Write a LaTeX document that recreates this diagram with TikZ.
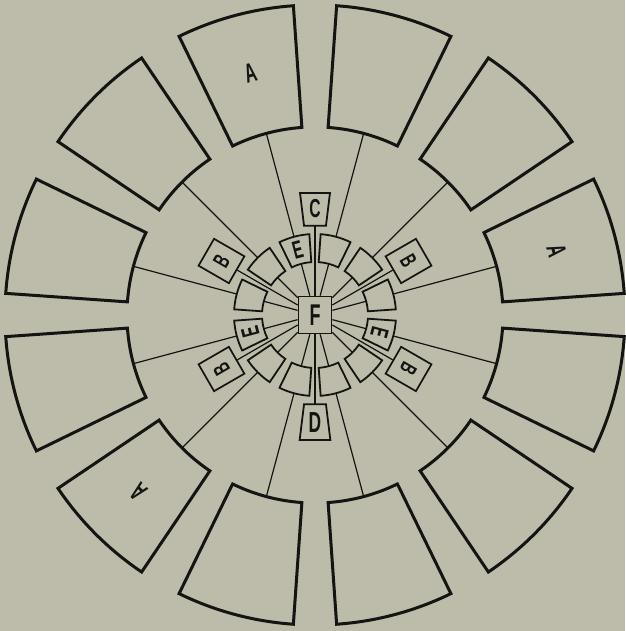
\documentclass[tikz,border=0pt]{standalone}
\usepackage{fontspec}
\newfontfamily\plate[FakeStretch=0.6]{Liberation Sans}
\definecolor{paper}{RGB}{189,188,170}
\definecolor{ink}{RGB}{20,20,18}
\tikzset{
  bigsector/.style={draw=ink, line width=3pt},
  cell/.style={draw=ink, line width=1.8pt},
  tag/.style={draw=ink, line width=1.7pt, inner sep=0pt},
  wire/.style={draw=ink, line width=1.2pt},
  letter/.style={text=ink, inner sep=0pt, font=\plate\bfseries\fontsize{27}{27}\selectfont}
}
\begin{document}
\begin{tikzpicture}[x=1pt, y=1pt]
  % Paper
  \fill[paper] (-315,-316) rectangle (310,315);
  \useasboundingbox (-315,-316) rectangle (310,315);

  % Outer ring
  \draw[bigsector] (4:188) arc[start angle=4, end angle=26, radius=188] -- (26:310) arc[start angle=26, end angle=4, radius=310] -- cycle;
  \draw[bigsector] (34:188) arc[start angle=34, end angle=56, radius=188] -- (56:310) arc[start angle=56, end angle=34, radius=310] -- cycle;
  \draw[bigsector] (64:188) arc[start angle=64, end angle=86, radius=188] -- (86:310) arc[start angle=86, end angle=64, radius=310] -- cycle;
  \draw[bigsector] (94:188) arc[start angle=94, end angle=116, radius=188] -- (116:310) arc[start angle=116, end angle=94, radius=310] -- cycle;
  \draw[bigsector] (124:188) arc[start angle=124, end angle=146, radius=188] -- (146:310) arc[start angle=146, end angle=124, radius=310] -- cycle;
  \draw[bigsector] (154:188) arc[start angle=154, end angle=176, radius=188] -- (176:310) arc[start angle=176, end angle=154, radius=310] -- cycle;
  \draw[bigsector] (184:188) arc[start angle=184, end angle=206, radius=188] -- (206:310) arc[start angle=206, end angle=184, radius=310] -- cycle;
  \draw[bigsector] (214:188) arc[start angle=214, end angle=236, radius=188] -- (236:310) arc[start angle=236, end angle=214, radius=310] -- cycle;
  \draw[bigsector] (244:188) arc[start angle=244, end angle=266, radius=188] -- (266:310) arc[start angle=266, end angle=244, radius=310] -- cycle;
  \draw[bigsector] (274:188) arc[start angle=274, end angle=296, radius=188] -- (296:310) arc[start angle=296, end angle=274, radius=310] -- cycle;
  \draw[bigsector] (304:188) arc[start angle=304, end angle=326, radius=188] -- (326:310) arc[start angle=326, end angle=304, radius=310] -- cycle;
  \draw[bigsector] (334:188) arc[start angle=334, end angle=356, radius=188] -- (356:310) arc[start angle=356, end angle=334, radius=310] -- cycle;

  % Inner ring
  \draw[cell] (4:53) arc[start angle=4, end angle=26, radius=53] -- (26:81) arc[start angle=26, end angle=4, radius=81] -- cycle;
  \draw[cell] (34:53) arc[start angle=34, end angle=56, radius=53] -- (56:81) arc[start angle=56, end angle=34, radius=81] -- cycle;
  \draw[cell] (64:53) arc[start angle=64, end angle=86, radius=53] -- (86:81) arc[start angle=86, end angle=64, radius=81] -- cycle;
  \draw[cell] (94:53) arc[start angle=94, end angle=116, radius=53] -- (116:81) arc[start angle=116, end angle=94, radius=81] -- cycle;
  \draw[cell] (124:53) arc[start angle=124, end angle=146, radius=53] -- (146:81) arc[start angle=146, end angle=124, radius=81] -- cycle;
  \draw[cell] (154:53) arc[start angle=154, end angle=176, radius=53] -- (176:81) arc[start angle=176, end angle=154, radius=81] -- cycle;
  \draw[cell] (184:53) arc[start angle=184, end angle=206, radius=53] -- (206:81) arc[start angle=206, end angle=184, radius=81] -- cycle;
  \draw[cell] (214:53) arc[start angle=214, end angle=236, radius=53] -- (236:81) arc[start angle=236, end angle=214, radius=81] -- cycle;
  \draw[cell] (244:53) arc[start angle=244, end angle=266, radius=53] -- (266:81) arc[start angle=266, end angle=244, radius=81] -- cycle;
  \draw[cell] (274:53) arc[start angle=274, end angle=296, radius=53] -- (296:81) arc[start angle=296, end angle=274, radius=81] -- cycle;
  \draw[cell] (304:53) arc[start angle=304, end angle=326, radius=53] -- (326:81) arc[start angle=326, end angle=304, radius=81] -- cycle;
  \draw[cell] (334:53) arc[start angle=334, end angle=356, radius=53] -- (356:81) arc[start angle=356, end angle=334, radius=81] -- cycle;

  % C and D plates
  \draw[cell] (83:90) -- (97:90) -- (97:123) -- (83:123) -- cycle;
  \draw[cell] (263:90) -- (277:90) -- (277:126) -- (263:126) -- cycle;

  % Coordinates
  \foreach \t in {15,45,75,105,135,165,195,225,255,285,315,345} {
    \coordinate (rim\t) at (\t:188);
    \coordinate (cellout\t) at (\t:81);
    \coordinate (cellin\t) at (\t:53);
  }
  \coordinate (Cbase) at (90:89.2);
  \coordinate (Dtop) at (270:89.2);

  % Centre and tags
  \node[tag, minimum width=33pt, minimum height=37pt, letter, font=\plate\bfseries\fontsize{30}{30}\selectfont] (F) at (0,0) {F};
  \node[tag, minimum width=31pt, minimum height=35pt, letter, font=\plate\bfseries\fontsize{23}{23}\selectfont, rotate=-60] (B30) at (30:108) {B};
  \node[tag, minimum width=31pt, minimum height=35pt, letter, font=\plate\bfseries\fontsize{23}{23}\selectfont, rotate=60] (B150) at (150:108) {B};
  \node[tag, minimum width=31pt, minimum height=35pt, letter, font=\plate\bfseries\fontsize{23}{23}\selectfont, rotate=120] (B210) at (210:108) {B};
  \node[tag, minimum width=31pt, minimum height=35pt, letter, font=\plate\bfseries\fontsize{23}{23}\selectfont, rotate=-120] (B330) at (330:108) {B};

  % Letters
  \node[letter, rotate=15] (A105) at (105:250) {A};
  \node[letter, rotate=-75] (A15) at (15:250) {A};
  \node[letter, rotate=135] (A225) at (225:250) {A};
  \node[letter, font=\plate\bfseries\fontsize{25}{25}\selectfont, rotate=15] (E105) at (105:67) {E};
  \node[letter, font=\plate\bfseries\fontsize{25}{25}\selectfont, rotate=-105] (E345) at (345:67) {E};
  \node[letter, font=\plate\bfseries\fontsize{25}{25}\selectfont, rotate=105] (E195) at (195:67) {E};
  \node[letter, font=\plate\bfseries\fontsize{26}{26}\selectfont] (C) at (90:106) {C};
  \node[letter, font=\plate\bfseries\fontsize{29}{29}\selectfont] (D) at (270:108) {D};

  % Wires
  \draw[wire] (rim15) -- (cellout15);
  \draw[wire] (rim45) -- (cellout45);
  \draw[wire] (rim75) -- (cellout75);
  \draw[wire] (rim105) -- (cellout105);
  \draw[wire] (rim135) -- (cellout135);
  \draw[wire] (rim165) -- (cellout165);
  \draw[wire] (rim195) -- (cellout195);
  \draw[wire] (rim225) -- (cellout225);
  \draw[wire] (rim255) -- (cellout255);
  \draw[wire] (rim285) -- (cellout285);
  \draw[wire] (rim315) -- (cellout315);
  \draw[wire] (rim345) -- (cellout345);
  \draw[wire] (cellin15) -- (F);
  \draw[wire] (cellin45) -- (F);
  \draw[wire] (cellin75) -- (F);
  \draw[wire] (cellin105) -- (F);
  \draw[wire] (cellin135) -- (F);
  \draw[wire] (cellin165) -- (F);
  \draw[wire] (cellin195) -- (F);
  \draw[wire] (cellin225) -- (F);
  \draw[wire] (cellin255) -- (F);
  \draw[wire] (cellin285) -- (F);
  \draw[wire] (cellin315) -- (F);
  \draw[wire] (cellin345) -- (F);
  \draw[wire] (B30) -- (F);
  \draw[wire] (B150) -- (F);
  \draw[wire] (B210) -- (F);
  \draw[wire] (B330) -- (F);
  \draw[wire] (Cbase) -- (F);
  \draw[wire] (Dtop) -- (F);
\end{tikzpicture}
\end{document}
